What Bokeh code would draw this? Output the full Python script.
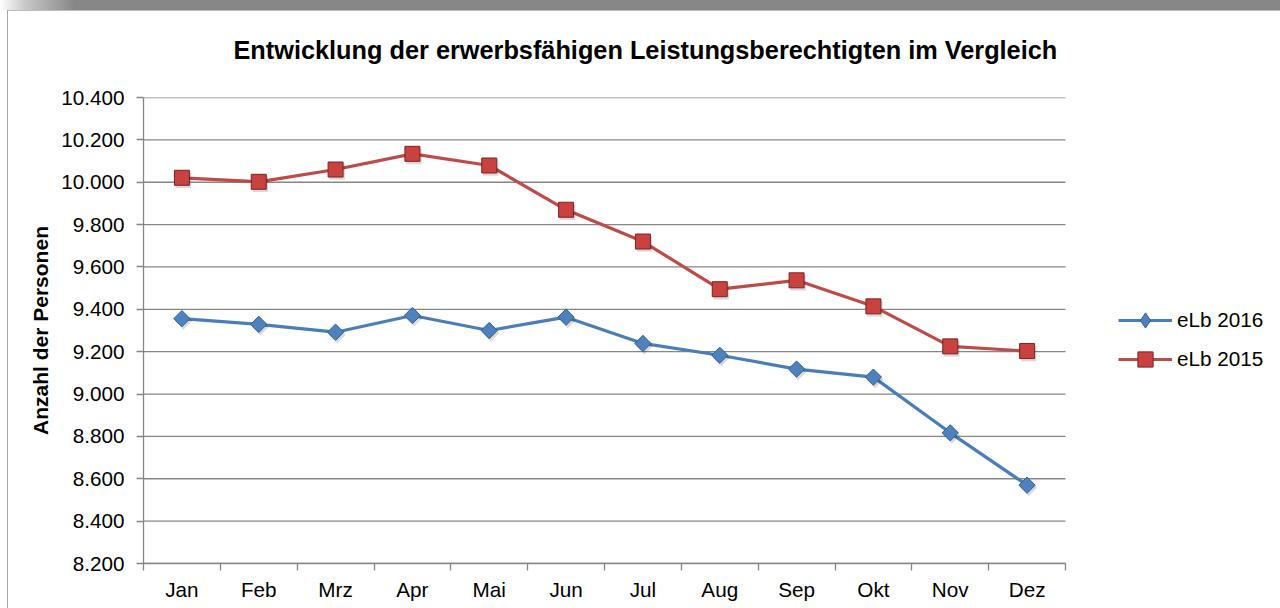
import math
from bokeh.plotting import figure
from bokeh.models import ColumnDataSource, FixedTicker, Legend, LegendItem, Range1d
from bokeh.transform import dodge
from bokeh.embed import file_html
from bokeh.resources import INLINE

# ---- data ----
months = ["Jan", "Feb", "Mrz", "Apr", "Mai", "Jun", "Jul", "Aug", "Sep", "Okt", "Nov", "Dez"]
elb_2016 = [9356, 9329, 9292, 9371, 9300, 9363, 9239, 9183, 9118, 9080, 8817, 8570]
elb_2015 = [10021, 10002, 10060, 10134, 10079, 9870, 9720, 9495, 9537, 9414, 9225, 9203]
series_names = ["eLb 2016", "eLb 2015"]
y_ticks = [8200, 8400, 8600, 8800, 9000, 9200, 9400, 9600, 9800, 10000, 10200, 10400]
y_tick_labels = ["8.200", "8.400", "8.600", "8.800", "9.000", "9.200", "9.400",
                 "9.600", "9.800", "10.000", "10.200", "10.400"]
title_text = "Entwicklung der erwerbsfähigen Leistungsberechtigten im Vergleich"
y_label = "Anzahl der Personen"

FONT = "Liberation Sans"
GRID = "#868686"
BLUE_LINE, BLUE_FILL, BLUE_EDGE = "#4A7EBB", "#4F81BD", "#2F5F96"
RED_LINE, RED_FILL, RED_EDGE = "#BE4B48", "#C8423F", "#7E2321"

# layout (pixels)
W, H = 1280, 608
PLOT_LEFT, PLOT_RIGHT, PLOT_TOP, PLOT_BOTTOM = 143, 1065, 97, 563

n = len(months)
x_pos = list(range(n))
x_start = -0.5
x_cat_end = n - 0.5
# frame extends to the right edge so the legend can sit inside it
x_frame_end = x_start + n * (W - PLOT_LEFT) / (PLOT_RIGHT - PLOT_LEFT)

source = ColumnDataSource(dict(x=x_pos, month=months, e2016=elb_2016, e2015=elb_2015))
grid_src = ColumnDataSource(dict(y=y_ticks))

p = figure(width=W, height=H, output_backend="svg", toolbar_location=None,
           x_range=Range1d(x_start, x_frame_end),
           y_range=Range1d(y_ticks[0], y_ticks[-1]),
           min_border_left=PLOT_LEFT, min_border_right=0,
           min_border_top=PLOT_TOP, min_border_bottom=H - PLOT_BOTTOM)
p.border_fill_color = None
p.styles = {
    "background": ("linear-gradient(to right, #ffffff 0px, #c8c8c8 25px, #878787 75px) 0 0 / 100% 10px no-repeat, "
                   "linear-gradient(#a6a6a6, #a6a6a6) 7px 10px / 1px 100% no-repeat, "
                   "linear-gradient(#bdbdbd, #bdbdbd) 7px 10px / 100% 1px no-repeat, "
                   "#ffffff"),
}

p.title.text = title_text
p.title.align = "left"
p.title.vertical_align = "top"
p.title.offset = 90
p.title.standoff = 64
p.title.text_font = FONT
p.title.text_font_size = "25.3px"
p.title.text_font_style = "bold"
p.title.text_color = "black"

p.outline_line_color = None
p.background_fill_color = "white"

# grid lines limited to the category area
p.xgrid.visible = False
p.ygrid.visible = False
p.segment(x0=x_start, x1=x_cat_end, y0="y", y1="y", source=grid_src,
          line_color=GRID, line_width=1.3)

# x axis: labels at category centres, ticks between categories
xa = p.xaxis[0]
xa.bounds = (x_start, x_cat_end)
xa.ticker = FixedTicker(ticks=x_pos, minor_ticks=[i - 0.5 for i in range(n + 1)])
xa.major_label_overrides = {i: m for i, m in enumerate(months)}
xa.major_tick_line_color = None
xa.major_tick_out = 7
xa.major_tick_in = 0
xa.minor_tick_line_color = GRID
xa.minor_tick_line_width = 1.3
xa.minor_tick_out = 7
xa.minor_tick_in = 0
xa.major_label_standoff = 7
xa.axis_line_color = GRID
xa.axis_line_width = 1.3
xa.major_label_text_font = FONT
xa.major_label_text_font_size = "20.7px"
xa.major_label_text_color = "black"

ya = p.yaxis[0]
ya.ticker = FixedTicker(ticks=y_ticks)
ya.major_label_overrides = dict(zip(y_ticks, y_tick_labels))
ya.major_tick_line_color = GRID
ya.major_tick_line_width = 1.3
ya.major_tick_out = 7
ya.major_tick_in = 0
ya.minor_tick_line_color = None
ya.major_label_standoff = 12
ya.axis_line_color = GRID
ya.axis_line_width = 1.3
ya.major_label_text_font = FONT
ya.major_label_text_font_size = "20.7px"
ya.major_label_text_color = "black"
ya.axis_label = y_label
ya.axis_label_text_font = FONT
ya.axis_label_text_font_size = "21px"
ya.axis_label_text_font_style = "bold"
ya.axis_label_text_color = "black"
ya.axis_label_standoff = 6

# lines
l16 = p.line("x", "e2016", source=source, line_color=BLUE_LINE, line_width=3.2)
l15 = p.line("x", "e2015", source=source, line_color=RED_LINE, line_width=3.2)

# soft marker shadows
p.scatter(x=dodge("x", 0.02), y=dodge("e2016", -12), source=source, marker="square",
          angle=math.pi / 4, size=12, fill_color="black", fill_alpha=0.15, line_color=None)
p.scatter(x=dodge("x", 0.02), y=dodge("e2015", -12), source=source, marker="square",
          size=15.5, fill_color="black", fill_alpha=0.15, line_color=None)

# markers (diamonds drawn as rotated squares)
m16 = p.scatter("x", "e2016", source=source, marker="square", angle=math.pi / 4, size=11.5,
                fill_color=BLUE_FILL, line_color=BLUE_EDGE, line_width=1)
m15 = p.scatter("x", "e2015", source=source, marker="square", size=15,
                fill_color=RED_FILL, line_color=RED_EDGE, line_width=1)

# legend-only diamond glyph (legends ignore marker angles)
m16_key = p.scatter("x", "e2016", source=source, marker="diamond", size=15,
                    fill_color=BLUE_FILL, line_color=BLUE_EDGE, line_width=1, visible=False)


def make_legend(name, rends, gh, loc):
    lg = Legend(items=[LegendItem(label=name, renderers=rends)], location=loc,
                glyph_width=54, glyph_height=gh, label_height=gh, label_standoff=5,
                padding=0, margin=0, spacing=0, border_line_color=None,
                background_fill_alpha=0, inactive_fill_alpha=0, label_text_font=FONT,
                label_text_font_size="20.7px", label_text_color="black")
    p.add_layout(lg)


make_legend(series_names[0], [l16, m16_key], 38, (1118 - PLOT_LEFT, 224))
make_legend(series_names[1], [l15, m15], 38, (1118 - PLOT_LEFT, 185))

open("out.html", "w").write(file_html(p, INLINE))
